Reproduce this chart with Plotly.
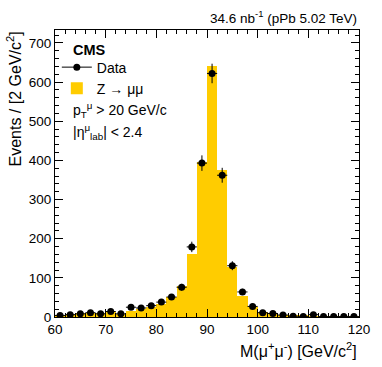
import numpy as np
import plotly.graph_objects as go

# bin centres (2 GeV bins from 60 to 120)
mass = [61, 63, 65, 67, 69, 71, 73, 75, 77, 79,
        81, 83, 85, 87, 89, 91, 93, 95, 97, 99,
        101, 103, 105, 107, 109, 111, 113, 115, 117, 119]

data_counts = [4, 6, 8, 11, 8, 14, 8, 25, 23, 29,
               38, 51, 76, 179, 393, 622, 362, 131, 64, 27,
               11, 9, 5, 2, 1, 6, 1, 1, 1, 1]

mc_counts = [6, 7, 9, 11, 10, 13, 8, 16, 20, 25,
             34, 52, 78, 162, 397, 640, 376, 128, 53, 26,
             14, 9, 6, 4, 3, 2, 2, 1, 1, 1]

bin_half = [1.0] * len(mass)
stat_err = list(np.sqrt(data_counts))

FONT = "Liberation Sans, Arial, sans-serif"

fig = go.Figure()

fig.add_trace(go.Bar(
    x=mass, y=mc_counts, width=2,
    marker=dict(color="#ffcc00", line=dict(width=0)),
    name="Z → μμ",
))

# data points with stat errors
fig.add_trace(go.Scatter(
    x=mass, y=data_counts, mode="markers",
    marker=dict(color="black", size=7),
    error_x=dict(type="data", array=bin_half, width=0, thickness=1, color="black"),
    error_y=dict(type="data", array=stat_err, width=0, thickness=1, color="black"),
    showlegend=False,
))
# legend entry drawn ROOT-style: line + marker
fig.add_trace(go.Scatter(
    x=[None], y=[None], mode="lines+markers",
    line=dict(color="black", width=1),
    marker=dict(color="black", size=7),
    name="Data",
))

axis_common = dict(
    showline=True, linecolor="black", linewidth=1, mirror="allticks",
    ticks="inside", ticklen=8, tickcolor="black", tickwidth=1,
    showgrid=False, zeroline=False, layer="above traces",
    tickfont=dict(family=FONT, size=13.5, color="black"),
)

fig.update_xaxes(range=[60, 120], dtick=10, tick0=60,
                 minor=dict(dtick=2, ticks="inside", ticklen=4, tickcolor="black"),
                 **axis_common)
fig.update_yaxes(range=[0, 733], dtick=100, tick0=0,
                 minor=dict(dtick=20, ticks="inside", ticklen=4, tickcolor="black"),
                 **axis_common)

txt = dict(family=FONT, size=14, color="black")
ann = [
    dict(text="34.6 nb<sup>-1</sup> (pPb 5.02 TeV)", x=1, y=1, xref="paper", yref="paper",
         xanchor="right", yanchor="bottom", yshift=2, showarrow=False,
         font=dict(family=FONT, size=13.5, color="black")),
    dict(text="M(μ<sup>+</sup>μ<sup>-</sup>) [GeV/c<sup>2</sup>]", x=1, y=0,
         xref="paper", yref="paper", xanchor="right", yanchor="middle", yshift=-33,
         showarrow=False, font=dict(family=FONT, size=16, color="black")),
    dict(text="Events / [2 GeV/c<sup>2</sup>]", x=0, y=1, xref="paper", yref="paper",
         xanchor="right", yanchor="top", xshift=-29, textangle=-90,
         showarrow=False, font=dict(family=FONT, size=16, color="black")),
    dict(text="<b>CMS</b>", x=0.053, y=0.929, xref="paper", yref="paper",
         xanchor="left", yanchor="middle", showarrow=False,
         font=dict(family=FONT, size=14.5, color="black")),
    dict(text="p<sub>T</sub><sup>μ</sup> &gt; 20 GeV/c", x=0.053, y=0.72,
         xref="paper", yref="paper", xanchor="left", yanchor="middle",
         showarrow=False, font=txt),
    dict(text="|η<sup>μ</sup><sub>lab</sub>| &lt; 2.4", x=0.053, y=0.645,
         xref="paper", yref="paper", xanchor="left", yanchor="middle",
         showarrow=False, font=txt),
]

fig.update_layout(
    width=382, height=367,
    margin=dict(l=55, r=12, t=30, b=50),
    paper_bgcolor="white", plot_bgcolor="white",
    bargap=0,
    annotations=ann,
    legend=dict(x=0.006, y=0.925, xanchor="left", yanchor="top",
                bgcolor="rgba(0,0,0,0)", traceorder="reversed",
                font=txt, itemwidth=30),
)

# drop the default 8px page margin so the figure sits at the window origin
fig.write_html("out.html", config={"displayModeBar": False},
               post_script="document.body.style.margin='0';")
